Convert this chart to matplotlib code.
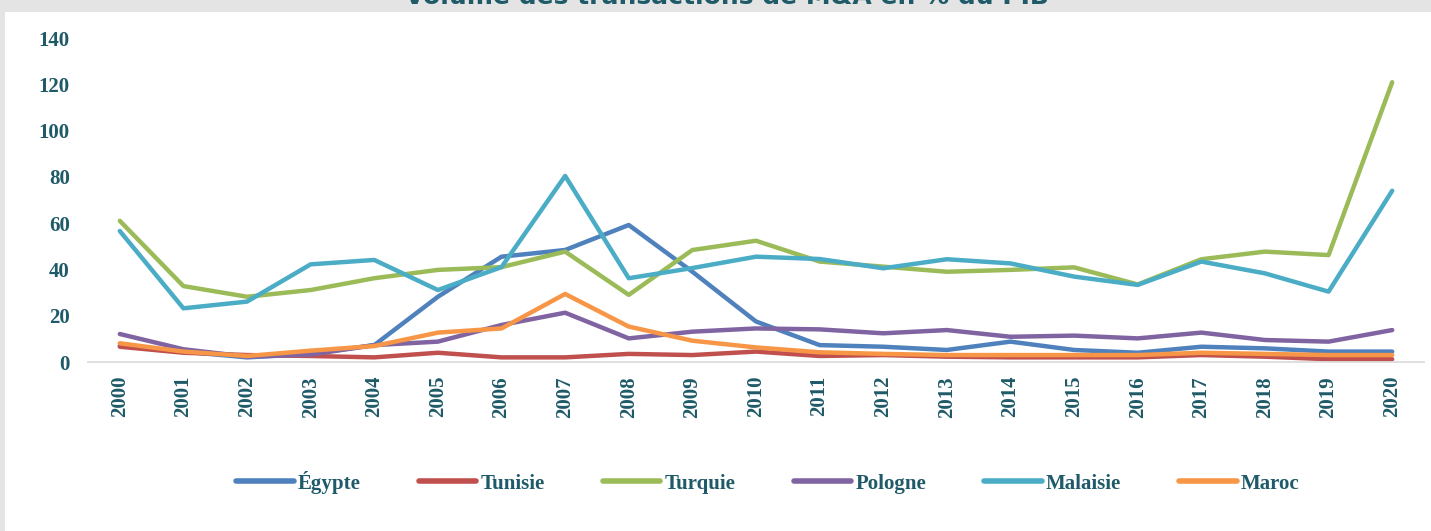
import numpy as np
import matplotlib.pyplot as plt
from matplotlib.patches import Rectangle

years = [str(y) for y in range(2000, 2021)]

egypte   = [7, 4.5, 2, 3.5, 7.3, 28.2, 45.5, 48.4, 59.2, 39, 17.5, 7.3, 6.6, 5.2, 8.8, 5.2, 4, 6.6, 5.9, 4.5, 4.5]
tunisie  = [6.6, 4, 3, 2.6, 2, 4, 2, 2, 3.5, 3, 4.5, 2.6, 3, 2.3, 2, 2, 2, 3, 2.3, 1.2, 1.2]
turquie  = [61, 32.8, 28.2, 31.1, 36.2, 39.8, 41, 47.7, 29, 48.4, 52.4, 43.4, 41.2, 39, 39.8, 40.9, 33.5, 44.4, 47.7, 46.2, 120.9]
pologne  = [12.1, 5.5, 2.3, 3.2, 7.3, 8.8, 16, 21.3, 10.2, 13.1, 14.5, 14.1, 12.4, 13.8, 10.9, 11.4, 10.2, 12.7, 9.5, 8.8, 13.8]
malaisie = [56.6, 23.2, 26.1, 42.2, 44.1, 31.1, 41, 80.4, 36.2, 40.6, 45.5, 44.5, 40.5, 44.4, 42.6, 36.9, 33.3, 43.4, 38.3, 30.4, 74]
maroc    = [8.1, 4.5, 2.6, 4.9, 6.9, 12.7, 14.5, 29.4, 15.3, 9.2, 6.3, 4.2, 3.5, 3, 3, 3, 3, 4, 3.5, 3, 3]

series = [
    ('Égypte', egypte, '#4f81bd'),
    ('Tunisie', tunisie, '#c0504d'),
    ('Turquie', turquie, '#9bbb59'),
    ('Pologne', pologne, '#8064a2'),
    ('Malaisie', malaisie, '#4bacc6'),
    ('Maroc', maroc, '#f79646'),
]

txt = '#1f5a68'
W, H = 1431, 531
fig = plt.figure(figsize=(W / 100, H / 100), dpi=100)
fig.patch.set_facecolor('#e4e4e4')
# white panel under the chart
fig.patches.append(Rectangle((5 / W, 0), 1 - 5 / W, 1 - 12 / H,
                             transform=fig.transFigure, facecolor='white',
                             edgecolor='none', zorder=-10))

# title, mostly cut off at the top
fig.text(0.508, 1 - 4 / H, 'Volume des transactions de M&A en % du PIB',
         ha='center', va='baseline', fontsize=18, fontweight='bold',
         color=txt, family='DejaVu Sans', zorder=-5)

ax = fig.add_axes([88 / W, 169 / H, 1336 / W, 324 / H])
ax.set_facecolor('none')
x = np.arange(len(years))
for name, vals, col in series:
    ax.plot(x, vals, color=col, lw=3.2, label=name, solid_capstyle='round')

ax.set_xlim(-0.5, len(years) - 0.5)
ax.set_ylim(0, 140)
ax.set_yticks(range(0, 141, 20))
ax.set_xticks(x)
ax.set_xticklabels(years, rotation=90)
for s in ['top', 'right', 'left']:
    ax.spines[s].set_visible(False)
ax.spines['bottom'].set_color('#d9d9d9')
ax.spines['bottom'].set_linewidth(1.2)
ax.tick_params(axis='both', length=0, colors=txt, labelsize=15)
ax.tick_params(axis='y', pad=13)
ax.tick_params(axis='x', pad=10)
for lab in ax.get_xticklabels() + ax.get_yticklabels():
    lab.set_family('Liberation Serif')
    lab.set_fontweight('bold')

leg = fig.legend(loc='center', bbox_to_anchor=(768 / W, 0.092), ncol=6,
                 frameon=False, handlelength=2.75, columnspacing=2.8,
                 handletextpad=0.2,
                 prop={'family': 'Liberation Serif', 'size': 15, 'weight': 'bold'})
for t in leg.get_texts():
    t.set_color(txt)
for h in leg.get_lines():
    h.set_linewidth(4)

fig.savefig('out.png', dpi=100, facecolor=fig.get_facecolor())
